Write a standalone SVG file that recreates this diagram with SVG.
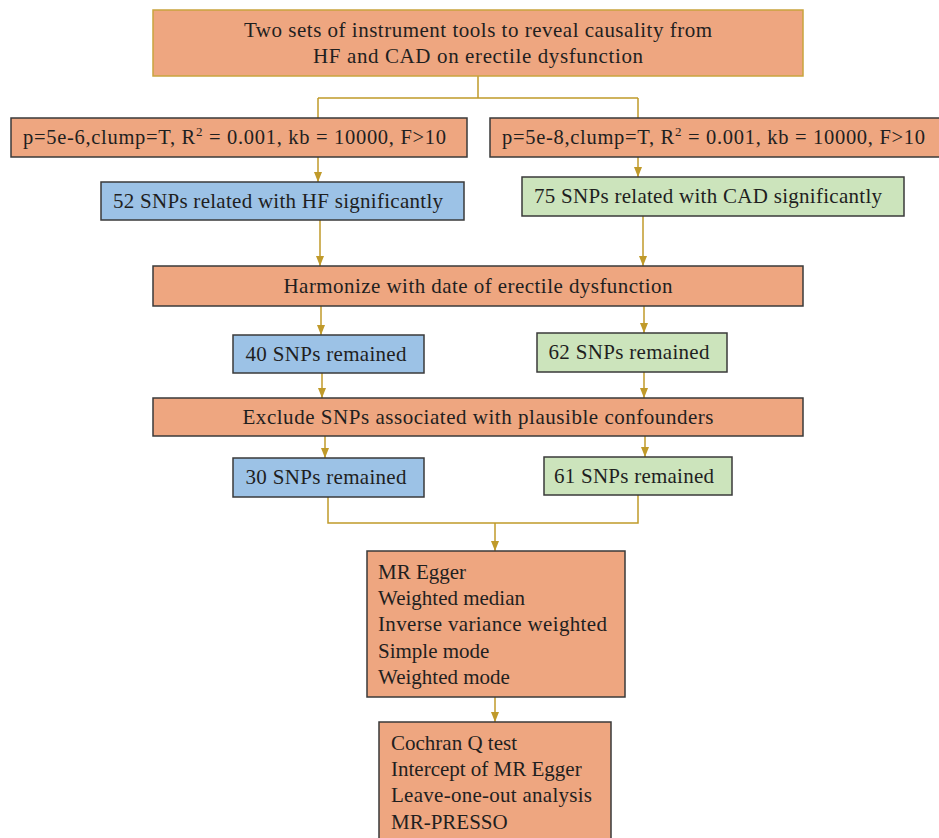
<svg xmlns="http://www.w3.org/2000/svg" width="939" height="838" viewBox="0 0 939 838">
<defs>
<marker id="ah" markerUnits="userSpaceOnUse" markerWidth="10" markerHeight="10" viewBox="0 0 10 10" refX="10" refY="5" orient="auto">
<path d="M0,1 L10,5 L0,9 Z" fill="#C09A2A"/>
</marker>
<style>
.o{fill:#EEA680;stroke:#3a3a3a;stroke-width:1.5}
.top{fill:#EEA680;stroke:#C9A43E;stroke-width:1.5}
.b{fill:#9CC2E6;stroke:#3a3a3a;stroke-width:1.5}
.g{fill:#CCE4BC;stroke:#3a3a3a;stroke-width:1.5}
text{font-family:"Liberation Serif","Times New Roman",serif;font-size:21px;fill:#1f1f1f}
.c{text-anchor:middle}
.p{font-size:20.5px}
.ln{fill:none;stroke:#C09A2A;stroke-width:1.5}
.sup{font-size:13px}
</style>
</defs>
<g id="connectors">
<path class="ln" d="M478,76 V98 M318,98 H638 M318,98 V118 M638,98 V118"/>
<path class="ln" d="M318,157 V182" marker-end="url(#ah)"/>
<path class="ln" d="M638,157 V177" marker-end="url(#ah)"/>
<path class="ln" d="M320,220 V266" marker-end="url(#ah)"/>
<path class="ln" d="M643,216 V266" marker-end="url(#ah)"/>
<path class="ln" d="M321,306 V335" marker-end="url(#ah)"/>
<path class="ln" d="M644,306 V333" marker-end="url(#ah)"/>
<path class="ln" d="M322,373 V398" marker-end="url(#ah)"/>
<path class="ln" d="M644,372 V398" marker-end="url(#ah)"/>
<path class="ln" d="M325,436 V458" marker-end="url(#ah)"/>
<path class="ln" d="M645,436 V457" marker-end="url(#ah)"/>
<path class="ln" d="M328,497 V523 H638 V495"/>
<path class="ln" d="M495,523 V551" marker-end="url(#ah)"/>
<path class="ln" d="M495,697 V722" marker-end="url(#ah)"/>
</g>
<g id="n-top">
<rect class="top" x="153" y="10" width="650" height="66"/>
<text class="c" x="478" y="37" textLength="468" lengthAdjust="spacing">Two sets of instrument tools to reveal causality from</text>
<text class="c" x="478" y="63" textLength="330" lengthAdjust="spacing">HF and CAD on erectile dysfunction</text>
</g>
<g id="n-param-hf">
<rect class="o" x="11" y="118" width="456" height="39"/>
<text class="p" x="23" y="144" textLength="423" lengthAdjust="spacing">p=5e-6,clump=T, R<tspan class="sup" dy="-8">2</tspan><tspan dy="8"> = 0.001, kb = 10000, F&gt;10</tspan></text>
</g>
<g id="n-param-cad">
<rect class="o" x="490" y="118" width="452" height="39"/>
<text class="p" x="502" y="144" textLength="423" lengthAdjust="spacing">p=5e-8,clump=T, R<tspan class="sup" dy="-8">2</tspan><tspan dy="8"> = 0.001, kb = 10000, F&gt;10</tspan></text>
</g>
<g id="n-hf52">
<rect class="b" x="101" y="182" width="363" height="38"/>
<text class="c" x="278" y="208" textLength="330" lengthAdjust="spacing">52 SNPs related  with  HF significantly</text>
</g>
<g id="n-cad75">
<rect class="g" x="522" y="177" width="382" height="39"/>
<text class="c" x="708" y="203" textLength="348" lengthAdjust="spacing">75 SNPs related  with  CAD significantly</text>
</g>
<g id="n-harmonize">
<rect class="o" x="153" y="266" width="650" height="40"/>
<text class="c" x="478" y="293" textLength="389" lengthAdjust="spacing">Harmonize  with date of erectile  dysfunction</text>
</g>
<g id="n-hf40">
<rect class="b" x="233" y="335" width="191" height="38"/>
<text class="c" x="326" y="361" textLength="161" lengthAdjust="spacing">40 SNPs remained</text>
</g>
<g id="n-cad62">
<rect class="g" x="537" y="333" width="190" height="39"/>
<text class="c" x="629" y="359" textLength="161" lengthAdjust="spacing">62 SNPs remained</text>
</g>
<g id="n-exclude">
<rect class="o" x="153" y="398" width="650" height="38"/>
<text class="c" x="478" y="424" textLength="471" lengthAdjust="spacing">Exclude  SNPs associated with plausible  confounders</text>
</g>
<g id="n-hf30">
<rect class="b" x="233" y="458" width="191" height="39"/>
<text class="c" x="326" y="484" textLength="161" lengthAdjust="spacing">30 SNPs remained</text>
</g>
<g id="n-cad61">
<rect class="g" x="544" y="457" width="188" height="38"/>
<text class="c" x="634" y="483" textLength="160" lengthAdjust="spacing">61 SNPs remained</text>
</g>
<g id="n-methods">
<rect class="o" x="367" y="551" width="258" height="146"/>
<text x="378" y="579">MR Egger</text>
<text x="378" y="605">Weighted  median</text>
<text x="378" y="631" textLength="229" lengthAdjust="spacing">Inverse variance  weighted</text>
<text x="378" y="658">Simple mode</text>
<text x="378" y="684">Weighted  mode</text>
</g>
<g id="n-sensitivity">
<rect class="o" x="379" y="722" width="232" height="130"/>
<text x="391" y="750">Cochran Q test</text>
<text x="391" y="776">Intercept of MR Egger</text>
<text x="391" y="802" textLength="201" lengthAdjust="spacing">Leave-one-out analysis</text>
<text x="391" y="829">MR-PRESSO</text>
</g>
</svg>
